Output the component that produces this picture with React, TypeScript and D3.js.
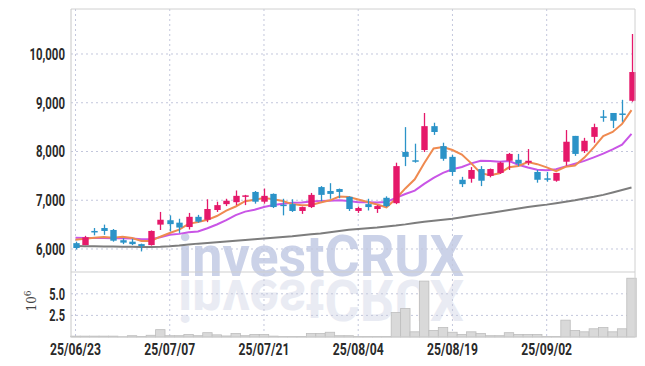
import React from "react";
import * as d3 from "d3";

const opens = [6120, 6080, 6370, 6430, 6390, 6180, 6150, 6100, 6080, 6500, 6590, 6540, 6450, 6660, 6600, 6800, 6920, 6960, 7070, 7170, 6970, 7130, 6910, 6920, 6780, 6860, 7270, 7190, 7230, 7070, 6780, 6920, 6820, 7050, 6940, 7990, 7820, 8030, 8520, 8110, 7890, 7420, 7440, 7640, 7500, 7560, 7810, 7830, 7770, 7580, 7450, 7400, 7790, 8320, 8010, 8300, 8720, 8790, 8780, 9040];
const highs = [6150, 6270, 6430, 6500, 6410, 6220, 6210, 6110, 6380, 6760, 6690, 6620, 6740, 6700, 7020, 6970, 7030, 7200, 7110, 7190, 7240, 7140, 7030, 7020, 6870, 7150, 7290, 7350, 7240, 7080, 6870, 7030, 6900, 7080, 7770, 8500, 8160, 8790, 8590, 8180, 7930, 7480, 7680, 7700, 7650, 7790, 7970, 7950, 8050, 7620, 7580, 7560, 8440, 8320, 8280, 8570, 8850, 8790, 9060, 10410];
const lows = [5990, 6080, 6280, 6290, 6150, 6100, 6080, 5950, 6070, 6390, 6360, 6330, 6400, 6540, 6550, 6760, 6880, 6900, 6900, 6930, 6930, 6840, 6690, 6760, 6720, 6840, 6980, 7030, 7040, 6780, 6740, 6790, 6740, 6860, 6920, 7700, 7770, 7990, 8340, 7810, 7500, 7270, 7360, 7290, 7470, 7540, 7620, 7700, 7720, 7360, 7380, 7380, 7710, 7910, 7970, 8180, 8610, 8480, 8610, 9020];
const closes = [6020, 6240, 6350, 6370, 6170, 6130, 6100, 6060, 6370, 6600, 6510, 6440, 6660, 6560, 6820, 6900, 6990, 7090, 7100, 6970, 7090, 6860, 6900, 6780, 6860, 7110, 7110, 7130, 7170, 6820, 6840, 6860, 6880, 6880, 7700, 7890, 7800, 8520, 8400, 7850, 7580, 7330, 7620, 7400, 7640, 7770, 7950, 7750, 7810, 7420, 7440, 7560, 8200, 7950, 8220, 8500, 8710, 8630, 8770, 9630];
const ma5 = [6190, 6210, 6230, 6245, 6230, 6252, 6224, 6166, 6166, 6252, 6328, 6396, 6516, 6554, 6598, 6676, 6786, 6872, 6980, 7010, 7048, 7022, 6984, 6920, 6898, 6902, 6952, 6998, 7076, 7068, 7014, 6964, 6914, 6856, 7032, 7242, 7430, 7758, 8062, 8092, 8030, 7936, 7756, 7556, 7514, 7552, 7676, 7702, 7784, 7740, 7674, 7596, 7686, 7714, 7874, 8086, 8316, 8402, 8566, 8848];
const ma10 = [6230, 6225, 6225, 6225, 6220, 6220, 6215, 6200, 6200, 6241, 6290, 6310, 6341, 6360, 6425, 6502, 6591, 6694, 6767, 6804, 6862, 6904, 6928, 6950, 6954, 6975, 6987, 6991, 6998, 6983, 6958, 6958, 6956, 6966, 7050, 7128, 7197, 7336, 7459, 7562, 7636, 7683, 7757, 7809, 7803, 7791, 7806, 7729, 7670, 7627, 7613, 7636, 7694, 7749, 7807, 7880, 7956, 8044, 8140, 8361];
const ma60 = [6060, 6058, 6055, 6052, 6050, 6048, 6045, 6040, 6040, 6045, 6055, 6070, 6090, 6110, 6125, 6140, 6155, 6170, 6185, 6200, 6215, 6230, 6245, 6260, 6280, 6300, 6320, 6345, 6370, 6395, 6410, 6425, 6440, 6460, 6480, 6505, 6535, 6560, 6580, 6600, 6620, 6650, 6680, 6710, 6740, 6770, 6800, 6830, 6860, 6885, 6910, 6940, 6970, 7000, 7035, 7070, 7110, 7160, 7210, 7260];
const volumes = [0.1, 0.1, 0.1, 0.1, 0.1, 0.03, 0.15, 0.05, 0.2, 0.85, 0.15, 0.15, 0.3, 0.15, 0.5, 0.25, 0.12, 0.4, 0.15, 0.3, 0.3, 0.1, 0.07, 0.07, 0.05, 0.4, 0.4, 0.55, 0.15, 0.15, 0.05, 0.05, 0.05, 0.05, 2.83, 3.3, 0.6, 6.47, 0.75, 1.1, 0.55, 0.3, 0.6, 0.4, 0.15, 0.15, 0.5, 0.3, 0.3, 0.3, 0.05, 0.07, 1.95, 0.75, 0.6, 0.95, 1.1, 0.6, 0.95, 6.8];
const xTickIdx = [0, 10, 20, 30, 40, 50];
const xTickLabels = ["25/06/23", "25/07/07", "25/07/21", "25/08/04", "25/08/19", "25/09/02"];
const priceTicks = [6000, 7000, 8000, 9000, 10000];
const volTicks = [2.5, 5.0];

const W = 645;
const H = 366;
const L = 71;
const R = 635;
const T = 9;
const PB = 272;
const VB = 337;

const UP = "#e5186a";
const DOWN = "#2b93c8";
const GRID = "#c3c7dc";
const FONT = "Roboto, sans-serif";

// approximate condensed widths for tick labels
const labelWidth = (s: string) => {
  let w = 0;
  for (const ch of s) {
    if (ch === "," || ch === ".") w += 2.6;
    else if (ch === "/") w += 5.6;
    else w += 6.6;
  }
  return w;
};

export default function App() {
  const n = closes.length;
  const x = d3.scaleLinear().domain([0, n - 1]).range([75.5, 631.5]);
  const y = d3.scaleLinear().domain([5528, 10923]).range([PB, T]);
  const yv = d3.scaleLinear().domain([0, 7.52]).range([VB, PB]);
  const step = x(1) - x(0);
  const bw = 6.4;
  const line = (arr: number[]) =>
    d3.line<number>().x((_, i) => x(i)).y((d) => y(d))(arr) || "";
  const fmt = d3.format(",");

  return (
    <svg width={W} height={H} style={{ display: "block", position: "absolute", left: 0, top: 0 }}>
      <defs>
        <text id="wm" x={178} y={276} fontFamily="Roboto, sans-serif" fontWeight={700} fontSize={58}
          textLength={286} lengthAdjust="spacingAndGlyphs">investCRUX</text>
      </defs>
      <rect x={0} y={0} width={W} height={H} fill="#fff" />
      {/* watermark */}
      <use href="#wm" fill="#cbd2e8" />
      <g transform="translate(0,556) scale(1,-1)">
        <use href="#wm" fill="#e9ebf3" />
      </g>
      {/* grid */}
      {priceTicks.map((t) => (
        <line key={"pg" + t} x1={L} x2={R} y1={y(t)} y2={y(t)} stroke={GRID} strokeDasharray="2,3" />
      ))}
      {volTicks.map((t) => (
        <line key={"vg" + t} x1={L} x2={R} y1={yv(t)} y2={yv(t)} stroke={GRID} strokeDasharray="2,3" />
      ))}
      {xTickIdx.map((i) => (
        <line key={"xg" + i} x1={x(i)} x2={x(i)} y1={T} y2={VB} stroke={GRID} strokeDasharray="2,3" />
      ))}
      {/* volume */}
      {volumes.map((v, i) => (
        <rect key={"v" + i} x={x(i) - step / 2} y={yv(v)} width={step} height={VB - yv(v)}
          fill="#d9d9d9" stroke="#bdbdbd" strokeWidth={0.8} />
      ))}
      {/* MA lines */}
      <path d={line(ma60)} fill="none" stroke="#7d7d7d" strokeWidth={2} />
      <path d={line(ma10)} fill="none" stroke="#c955e6" strokeWidth={2} />
      <path d={line(ma5)} fill="none" stroke="#ef8a50" strokeWidth={2} />
      {/* candles */}
      {closes.map((c, i) => {
        const o = opens[i];
        const col = c >= o ? UP : DOWN;
        const top = y(Math.max(o, c));
        const bot = y(Math.min(o, c));
        const cx = Math.round(x(i)) + 0.5;
        return (
          <g key={"c" + i}>
            <line x1={cx} x2={cx} y1={y(highs[i])} y2={y(lows[i])} stroke={col} strokeWidth={1.3} />
            <rect x={cx - bw / 2} y={top} width={bw} height={Math.max(1.5, bot - top)} fill={col} />
          </g>
        );
      })}
      {/* frame */}
      <line x1={L} x2={R} y1={T} y2={T} stroke="#d0d0d0" />
      <line x1={L} x2={L} y1={T} y2={VB} stroke="#c8c8c8" />
      <line x1={R} x2={R} y1={T} y2={VB} stroke="#d0d0d0" />
      <line x1={L} x2={R} y1={PB} y2={PB} stroke="#cfcfcf" />
      <line x1={L} x2={R} y1={VB} y2={VB} stroke="#cfcfcf" />
      {/* axes labels */}
      {priceTicks.map((t) => {
        const s = fmt(t);
        return (
          <text key={"pt" + t} x={65} y={y(t)} dy="0.36em" textAnchor="end" fontFamily={FONT}
            fontSize={16} fontWeight={700} fill="#2a2a2a" textLength={labelWidth(s)}
            lengthAdjust="spacingAndGlyphs">{s}</text>
        );
      })}
      {volTicks.map((t) => {
        const s = t.toFixed(1);
        return (
          <text key={"vt" + t} x={65} y={yv(t)} dy="0.36em" textAnchor="end" fontFamily={FONT}
            fontSize={16} fontWeight={700} fill="#2a2a2a" textLength={labelWidth(s)}
            lengthAdjust="spacingAndGlyphs">{s}</text>
        );
      })}
      {xTickIdx.map((i, k) => (
        <text key={"xt" + i} x={x(i)} y={349} dy="0.36em" textAnchor="middle" fontFamily={FONT}
          fontSize={16} fontWeight={700} fill="#2a2a2a" textLength={labelWidth(xTickLabels[k])}
          lengthAdjust="spacingAndGlyphs">{xTickLabels[k]}</text>
      ))}
      <text transform="translate(36,301) rotate(-90)" textAnchor="middle" fontFamily="'DejaVu Serif', serif"
        fontSize={12} fill="#444">
        10<tspan dy="-5" fontSize={9}>6</tspan>
      </text>
    </svg>
  );
}
